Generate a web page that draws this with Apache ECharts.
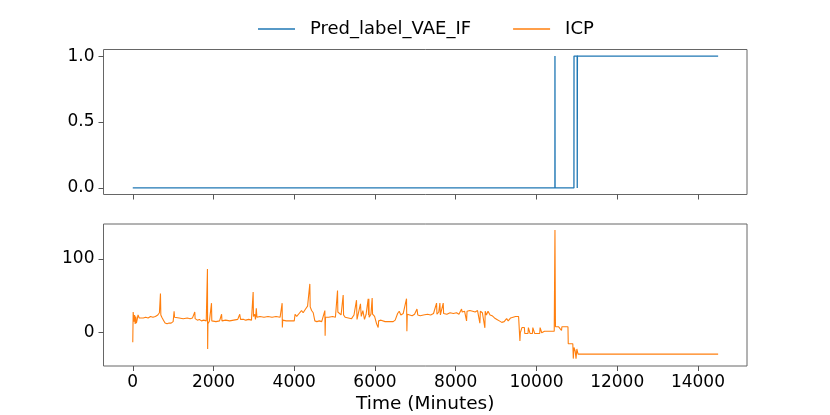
<!DOCTYPE html>
<html>
<head>
<meta charset="utf-8">
<script src="https://cdn.jsdelivr.net/npm/echarts@6/dist/echarts.min.js"></script>
<style>
  html, body { margin: 0; padding: 0; background: #fff; }
  #chart { width: 830px; height: 415px; }
</style>
</head>
<body>
<div id="chart"></div>
<script>
var myChart = echarts.init(document.getElementById('chart'));

// 数据
var seriesNames = ['Pred_label_VAE_IF', 'ICP'];

var predTime  = [0, 10457, 10458, 10460, 10461, 10928, 10930, 11008, 11010, 11012, 11014, 14500];
var predValue = [0, 0, 1, 1, 0, 0, 1, 1, 0, 0, 1, 1];

var icpTime = [
    0, 10, 30, 45, 60, 75, 90, 110, 130, 160, 200, 260, 320, 380, 440, 500, 560, 620, 660, 686,
    695, 720, 760, 800, 850, 900, 950, 1000, 1024, 1035, 1080, 1150, 1250, 1350, 1420, 1480, 1536, 1545, 1600, 1650,
    1700, 1760, 1820, 1850, 1855, 1862, 1900, 1950, 1958, 2000, 2060, 2100, 2150, 2200, 2210, 2300, 2400, 2500, 2600, 2650,
    2670, 2700, 2750, 2800, 2870, 2940, 2982, 2990, 3020, 3040, 3060, 3075, 3150, 3250, 3350, 3450, 3550, 3650, 3700, 3705,
    3715, 3800, 3900, 4000, 4020, 4060, 4120, 4180, 4220, 4280, 4330, 4386, 4395, 4430, 4470, 4510, 4560, 4620, 4680, 4716,
    4758, 4765, 4775, 4850, 4950, 5020, 5072, 5080, 5120, 5160, 5212, 5222, 5260, 5300, 5340, 5380, 5420, 5480, 5542, 5555,
    5600, 5640, 5660, 5700, 5740, 5780, 5831, 5840, 5848, 5856, 5900, 5930, 5940, 5990, 6040, 6079, 6090, 6150, 6250, 6350,
    6450, 6500, 6560, 6600, 6640, 6700, 6781, 6790, 6800, 6860, 6920, 6980, 7040, 7060, 7120, 7200, 7300, 7380, 7450, 7525,
    7535, 7580, 7608, 7620, 7690, 7700, 7780, 7860, 7940, 8020, 8080, 8144, 8160, 8220, 8268, 8280, 8350, 8420, 8480, 8540,
    8598, 8610, 8660, 8722, 8730, 8760, 8800, 8850, 8900, 8960, 9020, 9080, 9140, 9200, 9260, 9300, 9360, 9420, 9480, 9557,
    9575, 9590, 9600, 9620, 9640, 9700, 9710, 9790, 9800, 9830, 9840, 9900, 9910, 9945, 9955, 10080, 10090, 10120, 10130, 10200,
    10300, 10440, 10458, 10470, 10550, 10620, 10630, 10700, 10780, 10787, 10900, 10912, 10930, 10960, 10980, 11000, 11030, 11052, 14400, 14500
];
var icpValue = [
    -13, 28, 15, 24, 12, 22, 13, 18, 24, 20, 21, 20, 21, 20, 22, 21, 22, 24, 27, 53,
    24, 21, 17, 13, 12, 13, 13, 15, 29, 21, 20, 20, 19, 20, 19, 20, 28, 19, 17, 18,
    16, 17, 16, 86, -22, 12, 16, 40, 16, 16, 15, 17, 16, 25, 16, 17, 16, 17, 18, 25,
    18, 19, 18, 17, 18, 17, 55, 22, 25, 18, 33, 21, 22, 21, 22, 21, 22, 21, 40, 7,
    17, 16, 16, 16, 25, 22, 26, 30, 27, 32, 36, 66, 35, 30, 27, 16, 15, 16, 15, 16,
    30, -4, 21, 21, 22, 21, 57, 28, 27, 24, 51, 24, 21, 23, 20, 22, 19, 24, 44, 18,
    16, 39, 22, 30, 18, 25, 46, 24, 46, 21, 25, 47, 25, 22, 12, 7, 16, 17, 15, 15,
    15, 17, 26, 29, 24, 26, 46, 2, 25, 24, 23, 25, 32, 24, 23, 24, 25, 24, 26, 40,
    25, 28, 40, 24, 40, 26, 25, 27, 26, 27, 25, 32, 28, 29, 16, 29, 30, 29, 28, 30,
    13, 29, 27, 6.6, 29, 24, 29, 24, 23, 20, 18, 16, 14, 15, 19, 16, 20, 21, 22, 22,
    23, -11, 0, -1, 7, 7, -1, -1, 7, 7, -1, -1, 7, 7, -1, -1, 7, 7, 0, 2,
    2, 2, 139, 8, 8, 3, 8, 8, 8, -15, -15, -35, -20, -25, -35, -22, -29, -29, -29, -29
];

var xTicks = [0, 2000, 4000, 6000, 8000, 10000, 12000, 14000];
var topYTicks = [0, 0.5, 1];
var bottomYTicks = [0, 100];

var cs = ['#1f77b4', '#ff7f0e'];
var font = 'DejaVu Sans';

function pairs(xs, ys) {
    var out = [];
    for (var i = 0; i < xs.length; i++) out.push([xs[i], ys[i]]);
    return out;
}

function xAxisCfg(gridIndex, showLabels, name) {
    return {
        type: 'value',
        gridIndex: gridIndex,
        min: -725,
        max: 15215,
        name: name,
        nameLocation: 'middle',
        nameGap: 29,
        nameTextStyle: { fontFamily: font, fontSize: 18.5, color: '#000' },
        axisLine: { show: false, onZero: false },
        splitLine: { show: false },
        axisTick: {
            show: true,
            length: 5,
            customValues: xTicks,
            lineStyle: { color: '#555' }
        },
        axisLabel: {
            show: showLabels,
            margin: 8,
            customValues: xTicks,
            formatter: function (v) { return String(v); },
            fontFamily: font,
            fontSize: 17,
            color: '#000'
        }
    };
}

function yAxisCfg(gridIndex, min, max, ticks, fmt) {
    return {
        type: 'value',
        gridIndex: gridIndex,
        min: min,
        max: max,
        axisLine: { show: false, onZero: false },
        splitLine: { show: false },
        axisTick: {
            show: true,
            length: 5,
            customValues: ticks,
            lineStyle: { color: '#555' }
        },
        axisLabel: {
            margin: 9,
            customValues: ticks,
            formatter: fmt,
            fontFamily: font,
            fontSize: 17,
            color: '#000'
        }
    };
}

var option = {
    animation: false,
    backgroundColor: '#fff',
    color: cs,
    legend: {
        top: 20,
        left: 258,
        padding: 0,
        icon: 'rect',
        itemWidth: 37,
        itemHeight: 1.5,
        itemGap: 42,
        textStyle: {
            fontFamily: font,
            fontSize: 18,
            color: '#000',
            padding: [0, 0, 0, 10]
        },
        data: seriesNames
    },
    grid: [
        { left: 103.5, right: 83, top: 49.5, height: 145, show: true, borderColor: '#666', borderWidth: 1 },
        { left: 103.5, right: 83, top: 224, height: 145, show: true, borderColor: '#666', borderWidth: 1 }
    ],
    xAxis: [
        xAxisCfg(0, false, ''),
        xAxisCfg(1, true, 'Time (Minutes)')
    ],
    yAxis: [
        yAxisCfg(0, -0.05, 1.05, topYTicks, function (v) { return v.toFixed(1); }),
        yAxisCfg(1, -45, 147, bottomYTicks, function (v) { return String(v); })
    ],
    series: [
        {
            name: seriesNames[0],
            type: 'line',
            xAxisIndex: 0,
            yAxisIndex: 0,
            symbol: 'none',
            lineStyle: { width: 1.3, color: cs[0] },
            data: pairs(predTime, predValue)
        },
        {
            name: seriesNames[1],
            type: 'line',
            xAxisIndex: 1,
            yAxisIndex: 1,
            symbol: 'none',
            lineStyle: { width: 1.1, color: cs[1] },
            data: pairs(icpTime, icpValue)
        }
    ]
};

myChart.setOption(option);
</script>
</body>
</html>
